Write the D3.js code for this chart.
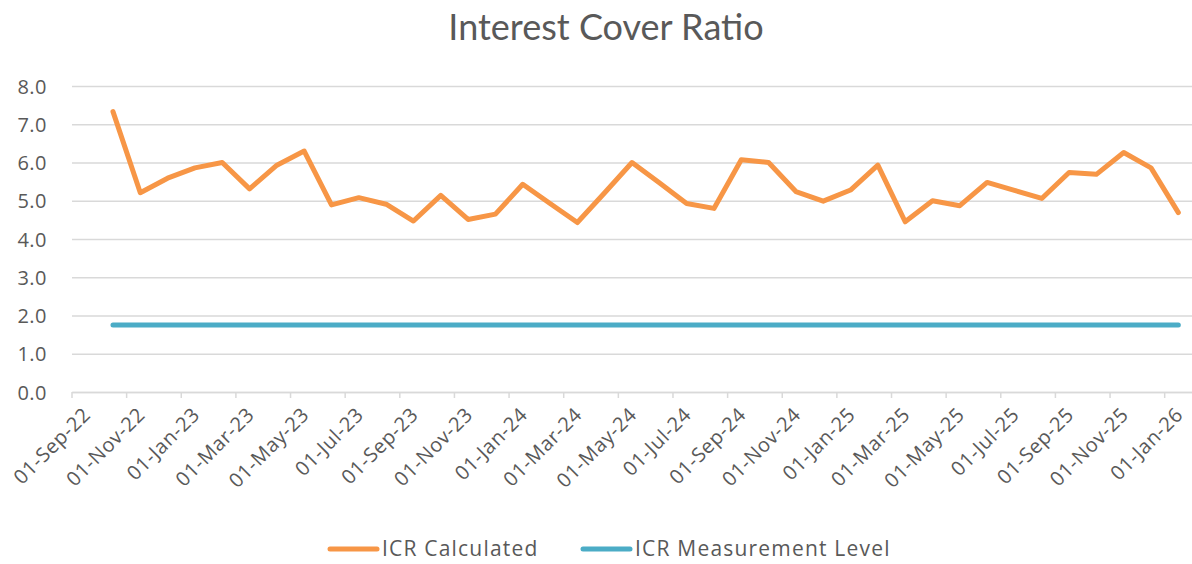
<!DOCTYPE html>
<html>
<head>
<meta charset="utf-8">
<script src="https://cdn.jsdelivr.net/npm/d3@7"></script>
<style>
  body { margin: 0; background: #fff; }
  svg { font-family: 'Open Sans', sans-serif; }
  .tick text { fill: #595959; }
  .title { fill: #595959; font-size: 36px; font-family: Lato, sans-serif; }
  .legend text { fill: #595959; font-size: 21px; letter-spacing: 1.2px; }
</style>
</head>
<body>
<svg width="1192" height="564"></svg>
<script>
// month categories on the date axis (Sep-22 .. Jan-26)
const months = [
  '01-Sep-22','01-Oct-22','01-Nov-22','01-Dec-22',
  '01-Jan-23','01-Feb-23','01-Mar-23','01-Apr-23','01-May-23','01-Jun-23',
  '01-Jul-23','01-Aug-23','01-Sep-23','01-Oct-23','01-Nov-23','01-Dec-23',
  '01-Jan-24','01-Feb-24','01-Mar-24','01-Apr-24','01-May-24','01-Jun-24',
  '01-Jul-24','01-Aug-24','01-Sep-24','01-Oct-24','01-Nov-24','01-Dec-24',
  '01-Jan-25','01-Feb-25','01-Mar-25','01-Apr-25','01-May-25','01-Jun-25',
  '01-Jul-25','01-Aug-25','01-Sep-25','01-Oct-25','01-Nov-25','01-Dec-25',
  '01-Jan-26'
];

// data months (Oct-22 .. Jan-26)
const dataMonths = months.slice(1);

const icrCalculated = [
  7.33, 5.21, 5.59, 5.86, 6.00, 5.31, 5.93, 6.30, 4.89, 5.08,
  4.91, 4.47, 5.14, 4.51, 4.65, 5.43, 4.93, 4.43, 5.21, 6.00,
  5.47, 4.93, 4.80, 6.07, 6.00, 5.24, 4.99, 5.28, 5.93, 4.45,
  5.00, 4.87, 5.48, 5.27, 5.06, 5.74, 5.69, 6.26, 5.86, 4.69
];

const icrMeasurementLevel = dataMonths.map(() => 1.75);

const yTicks = [0, 1, 2, 3, 4, 5, 6, 7, 8];

const series = [
  {name: 'ICR Calculated', values: icrCalculated, color: '#F79646'},
  {name: 'ICR Measurement Level', values: icrMeasurementLevel, color: '#4BACC6'}
];

const svg = d3.select('svg');
const width = +svg.attr('width');
const height = +svg.attr('height');

const margin = {top: 86, right: 0, bottom: 172, left: 72};
const innerWidth = width - margin.left - margin.right;
const innerHeight = height - margin.top - margin.bottom;

const xScale = d3.scaleBand()
  .domain(months)
  .range([0, innerWidth]);

const yScale = d3.scaleLinear()
  .domain([0, 8])
  .range([innerHeight, 0]);

const g = svg.append('g')
  .attr('transform', `translate(${margin.left}, ${margin.top})`);

// gridlines + y labels
const yAxis = d3.axisLeft(yScale)
  .tickValues(yTicks)
  .tickSize(-innerWidth)
  .tickPadding(25)
  .tickFormat(d3.format('.1f'));

const yAxisG = g.append('g').call(yAxis)
  .attr('font-family', null);
yAxisG.select('.domain').remove();
yAxisG.selectAll('.tick line')
  .attr('stroke', '#D9D9D9')
  .attr('stroke-width', 1.5);
yAxisG.selectAll('.tick text')
  .style('font-size', '20px')
  .style('letter-spacing', '0.5px')
  .attr('dy', '0.35em');

// x axis: ticks at month boundaries every 2 months, labels at month centre
const bw = xScale.bandwidth();
const xAxis = d3.axisBottom(xScale)
  .tickValues(months.filter((d, i) => i % 2 === 0))
  .tickSize(6)
  .tickSizeOuter(0);

const xAxisG = g.append('g')
  .attr('transform', `translate(0, ${innerHeight})`)
  .call(xAxis)
  .attr('font-family', null);

xAxisG.select('.domain')
  .attr('stroke', '#D9D9D9')
  .attr('stroke-width', 1.5);
xAxisG.selectAll('.tick line')
  .attr('x1', -bw / 2)
  .attr('x2', -bw / 2)
  .attr('stroke', '#D9D9D9')
  .attr('stroke-width', 1.5);
xAxisG.selectAll('.tick text')
  .style('font-size', '20px')
  .style('letter-spacing', '0.6px')
  .attr('text-anchor', 'end')
  .attr('dy', null)
  .attr('y', 0)
  .attr('transform', 'translate(6, 24) rotate(-45)');

// lines
const lineGenerator = d3.line()
  .x((d, i) => xScale(dataMonths[i]) + bw / 2)
  .y(d => yScale(d));

g.selectAll('.line-path')
  .data(series)
  .enter().append('path')
    .attr('class', 'line-path')
    .attr('d', d => lineGenerator(d.values))
    .attr('fill', 'none')
    .attr('stroke', d => d.color)
    .attr('stroke-width', 5)
    .attr('stroke-linejoin', 'round')
    .attr('stroke-linecap', 'round');

// title
svg.append('text')
  .attr('class', 'title')
  .attr('x', 606)
  .attr('y', 40)
  .attr('text-anchor', 'middle')
  .text('Interest Cover Ratio');

// legend
const legendX = [330, 583];
const legend = svg.append('g').attr('class', 'legend');
const items = legend.selectAll('g')
  .data(series)
  .enter().append('g')
    .attr('transform', (d, i) => `translate(${legendX[i]}, 549)`);
items.append('line')
  .attr('x1', 0).attr('x2', 47)
  .attr('stroke', d => d.color)
  .attr('stroke-width', 5)
  .attr('stroke-linecap', 'round');
items.append('text')
  .attr('x', 52)
  .attr('y', 7)
  .text(d => d.name);
</script>
</body>
</html>
